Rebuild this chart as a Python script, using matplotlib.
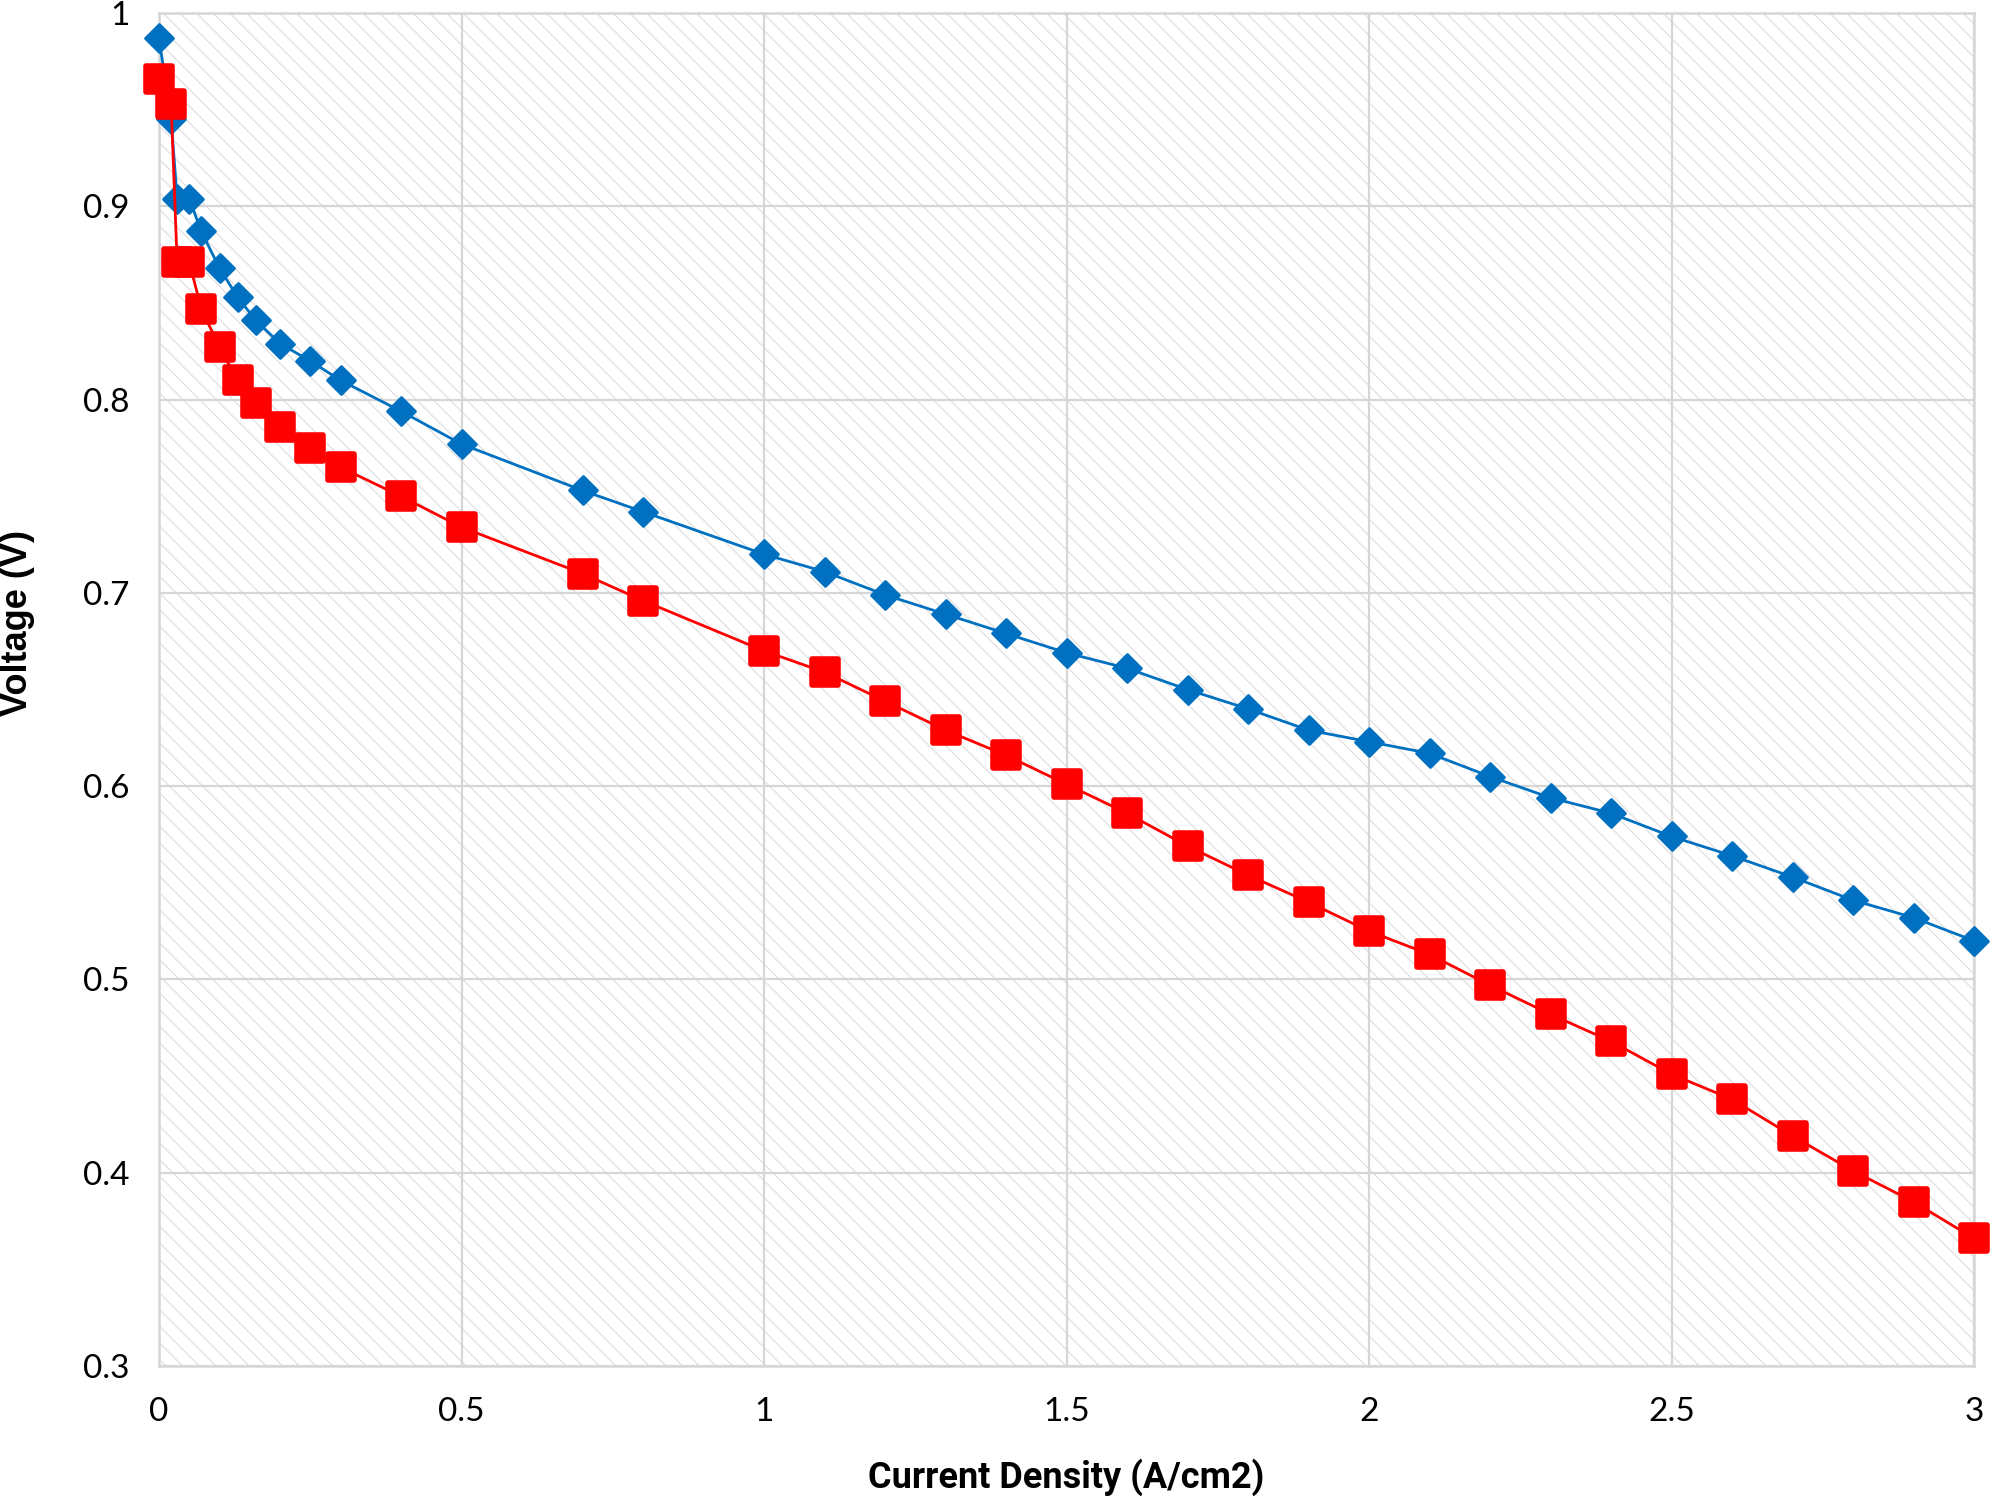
import matplotlib
matplotlib.use("Agg")
import matplotlib.pyplot as plt
from matplotlib.markers import MarkerStyle
from matplotlib.patches import Rectangle

# ---- data ----
current_density = [0, 0.02, 0.03, 0.05, 0.07, 0.1, 0.13, 0.16, 0.2, 0.25, 0.3,
                   0.4, 0.5, 0.7, 0.8, 1.0, 1.1, 1.2, 1.3, 1.4, 1.5, 1.6, 1.7,
                   1.8, 1.9, 2.0, 2.1, 2.2, 2.3, 2.4, 2.5, 2.6, 2.7, 2.8, 2.9, 3.0]
voltage_blue = [0.987, 0.945, 0.904, 0.904, 0.887, 0.868, 0.853, 0.841, 0.829, 0.820, 0.810,
                0.794, 0.777, 0.753, 0.742, 0.720, 0.711, 0.699, 0.689, 0.679, 0.669, 0.661, 0.650,
                0.640, 0.629, 0.623, 0.617, 0.605, 0.594, 0.586, 0.574, 0.564, 0.553, 0.541, 0.532, 0.520]
voltage_red = [0.966, 0.953, 0.871, 0.871, 0.847, 0.827, 0.810, 0.798, 0.786, 0.775, 0.765,
               0.750, 0.734, 0.710, 0.696, 0.670, 0.659, 0.644, 0.629, 0.616, 0.601, 0.586, 0.569,
               0.554, 0.540, 0.525, 0.513, 0.497, 0.482, 0.468, 0.451, 0.438, 0.419, 0.401, 0.385, 0.366]
x_ticks = [0, 0.5, 1, 1.5, 2, 2.5, 3]
x_tick_labels = ["0", "0.5", "1", "1.5", "2", "2.5", "3"]
y_ticks = [0.3, 0.4, 0.5, 0.6, 0.7, 0.8, 0.9, 1.0]
y_tick_labels = ["0.3", "0.4", "0.5", "0.6", "0.7", "0.8", "0.9", "1"]
x_label = "Current Density (A/cm2)"
y_label = "Voltage (V)"

plt.rcParams['hatch.color'] = '#d9d9d9'
plt.rcParams['hatch.linewidth'] = 0.7

fig = plt.figure(figsize=(20, 15), dpi=100)
ax = fig.add_axes([0.0795, 0.0893, 0.9075, 0.902])

# hatched background
ax.add_patch(Rectangle((0, 0), 1, 1, transform=ax.transAxes, facecolor='white',
                       edgecolor='#d9d9d9', hatch='\\\\', linewidth=0, zorder=0))

ax.set_xlim(0, 3)
ax.set_ylim(0.3, 1.0)
ax.set_xticks(x_ticks)
ax.set_xticklabels(x_tick_labels)
ax.set_yticks(y_ticks)
ax.set_yticklabels(y_tick_labels)

ax.grid(True, color='#d6d6d6', linewidth=1.6, zorder=1)
ax.set_axisbelow(True)
for s in ax.spines.values():
    s.set_color('#d6d6d6')
    s.set_linewidth(1.8)

tick_font = ['Lato', 'DejaVu Sans']
ax.tick_params(axis='both', length=0, labelsize=24, colors='black')
ax.tick_params(axis='x', pad=22)
ax.tick_params(axis='y', pad=21)
for lab in ax.get_xticklabels() + ax.get_yticklabels():
    lab.set_family(tick_font)

ax.plot(current_density, voltage_blue, color='#0070C0', linewidth=2.0,
        marker=MarkerStyle('D', joinstyle='round'), markersize=14,
        markeredgewidth=2, markerfacecolor='#0070C0', markeredgecolor='#0070C0',
        zorder=3, clip_on=False)
ax.plot(current_density, voltage_red, color='#FF0000', linewidth=2.0,
        marker=MarkerStyle('s', joinstyle='round'), markersize=19,
        markeredgewidth=4, markerfacecolor='#FF0000', markeredgecolor='#FF0000',
        zorder=4, clip_on=False)

ax.set_xlabel(x_label, fontsize=26, fontweight='bold', family=['Roboto', 'DejaVu Sans'])
ax.xaxis.set_label_coords(0.5, -0.068)
ax.set_ylabel(y_label, fontsize=26, fontweight='bold', family=['Liberation Sans', 'DejaVu Sans'],
              va='center')
ax.yaxis.set_label_coords(-0.078, 0.549)

fig.savefig('out.png', dpi=100, facecolor='white')
